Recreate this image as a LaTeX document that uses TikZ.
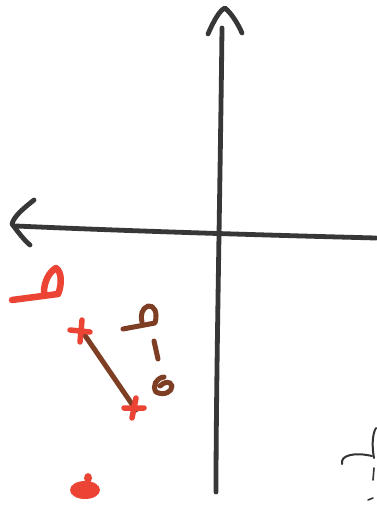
\documentclass[tikz,border=0pt]{standalone}
\definecolor{redmark}{RGB}{236,68,52}
\definecolor{brownmark}{RGB}{125,62,36}
\definecolor{axisink}{RGB}{55,55,55}
\begin{document}
\begin{tikzpicture}[x=1pt,y=-1pt,
  ink/.style={line width=4.8pt,line cap=round,line join=round,draw=axisink},
  redink/.style={line width=6.5pt,line cap=round,line join=round,draw=redmark},
  brownink/.style={line width=5pt,line cap=round,line join=round,draw=brownmark}]
\useasboundingbox[fill=white] (0,0) rectangle (376,508);
% vertical axis
\draw[ink] (222,28) .. controls (220,200) and (216,380) .. (216,492);
\draw[ink] (208,34) .. controls (214,20) and (220,10) .. (225,8) .. controls (232,14) and (238,24) .. (242,33);
% horizontal axis
\draw[ink] (16,226) .. controls (150,232) and (300,236) .. (376,238);
\draw[ink] (34,200) .. controls (24,208) and (14,216) .. (12,224) .. controls (18,232) and (24,240) .. (30,245);
% red mark top-left
\draw[redink] (12,300) -- (58,294);
\draw[redink] (58,294) .. controls (62,285) and (62,272) .. (56,268) .. controls (49,272) and (44,282) .. (44,292);
% segment
\draw[brownink,line width=5pt] (84,334) -- (136,410);
\draw[redink,line width=5.5pt] (70,330) -- (90,332) (82,320) -- (80,342);
\draw[redink,line width=5.5pt] (124,408) -- (144,408) (136,398) -- (132,418);
% brown label
\draw[brownink] (123,329) -- (155,323) .. controls (158,312) and (154,305) .. (148,306) .. controls (142,308) and (140,316) .. (142,322);
\draw[brownink] (154,341) -- (158,359);
\draw[brownink] (164,377) .. controls (156,378) and (152,386) .. (156,392) .. controls (164,396) and (172,392) .. (172,386) .. controls (170,380) and (164,382) .. (160,386);
% bottom red blob
\fill[redmark] (85,490) ellipse (15pt and 9pt);
\fill[redmark] (88,478) ellipse (4pt and 5pt);
% bottom-right fragment
\draw[line width=2pt,line cap=round,draw=black!80] (342,464) .. controls (340,455) and (355,452) .. (372,456);
\draw[line width=2pt,line cap=round,draw=black!80] (376,428) .. controls (372,434) and (372,448) .. (374,458);
\draw[line width=1.6pt,line cap=round,draw=black!80] (374,468) -- (373,480);
\draw[line width=1.6pt,line cap=round,draw=black!80] (368,500) -- (373,498);
\end{tikzpicture}
\end{document}
